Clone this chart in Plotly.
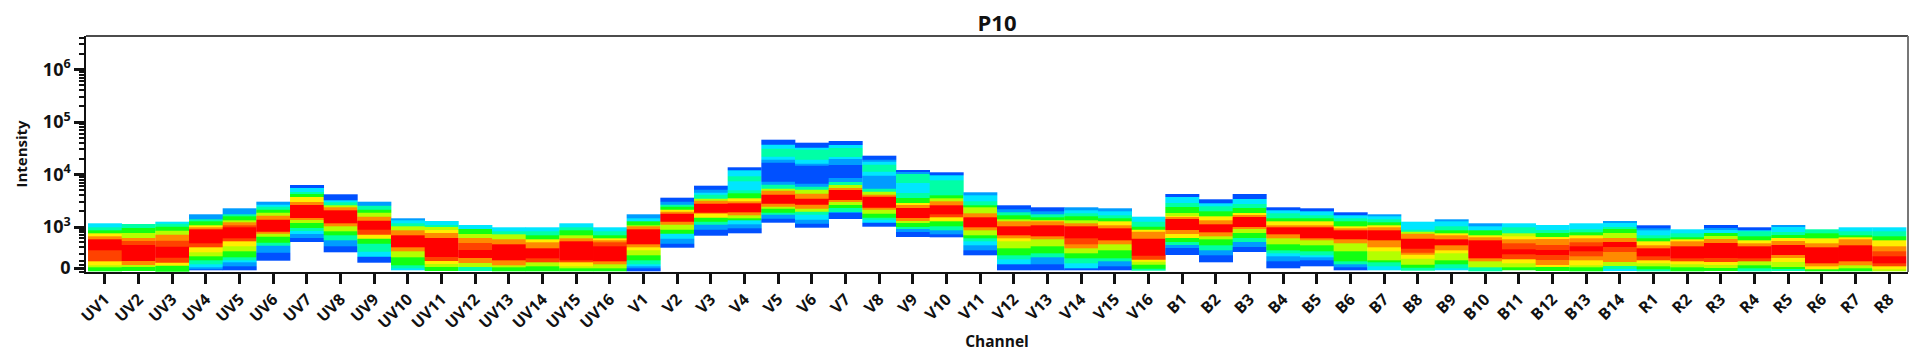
import math
import plotly.graph_objects as go

# Channel names
UV = [f"UV{i}" for i in range(1, 17)]
V = [f"V{i}" for i in range(1, 17)]
B = [f"B{i}" for i in range(1, 15)]
R = [f"R{i}" for i in range(1, 9)]
channels = UV + V + B + R

# Band edges per channel on the transformed intensity scale, high to low
band_edges = [
 [44.7,40.7,37.3,34.7,32,28.7,18,6.3,3,0.7,-3.3],
 [44,39.7,34.7,30.3,27,23,7.3,3,0.7,-3.3],
 [46.3,44.7,41.3,37.3,33,27.3,21.3,10.7,5.7,2,-3.3],
 [53.7,48.7,46.3,43,40.7,38.7,24.7,20.7,15.7,12,8,4,0.7,-1,-2.7],
 [59.7,54,51.3,48,45.3,42.3,40.7,29.7,27,22,16.3,10.7,7.3,5.3,2,-2],
 [66.3,63.7,61.3,58.7,55.3,52,48.7,36.3,34,31.3,25.3,22,15.3,7.3],
 [83,79.7,76.3,74,70.7,66.3,63,50.3,48,45.3,39.7,37.3,33.7,29.7,25.7],
 [73.7,68,65.7,63,60.7,57.3,44.7,41.3,36.3,32.3,27.3,22,16],
 [66.3,62,58,55.3,51.3,47.3,38,33,29.7,24.7,16.3,11.3,5.7],
 [49.7,48,44.7,42,38,33,20.7,16.3,10.7,3,-0.3,-2.7],
 [47,43,40.7,38,34.7,29.7,10.7,7,4,0.7,-3.3],
 [43,38.7,34,29.7,25.3,18,9.7,5.3,1.3,-3],
 [40.7,36.3,33.7,28.7,23.7,7.3,3,0.3,-3.3],
 [40.7,36.3,33,28.7,25.3,19.3,9.7,5.3,1.3,-3.3],
 [44.7,40.7,38,33,29.7,27,8,5.3,1.3,-0.3,-3.3],
 [40.7,36.3,33,29.7,28,25.3,22,6.3,4,-0.3,-3.3],
 [53.7,49.7,46.3,43,41.3,38.7,24,20.7,18,13,7.3,3.7,1.3,-0.3,-3],
 [70.3,66.3,63.7,61.3,58.7,56.3,54.7,46.3,43,38.7,34.7,29.7,24.7,20],
 [82.3,78,75.3,73,69.7,67.3,64.7,55.7,54,50.7,46.3,43,38,32.7],
 [100.7,98,92,86.3,78,74.7,69.7,66.3,64.7,55.3,53,49.7,47.3,43.7,39.7,34.7],
 [128.3,123,119.7,111.3,108.7,105.3,86.3,83,79.7,77,73,64.7,61.3,59,55.3,53,49.7,45.7],
 [125.3,120.7,118,108,104.7,102,84.7,81.3,78,74.7,69.7,63,59,56.3,53,48.7,44.7,40],
 [127,123,119.7,111.3,108.7,103,89.7,86.3,83,79.7,78,68,65.7,63,59.7,56.3,54.7,49],
 [112.3,108.7,106.3,103,96.3,92,79.7,76.3,73,71.3,60.7,58,54.7,50.7,48,45.3,41.7],
 [98,96.3,94,84.7,74.7,69.7,65.3,63,59.7,49.7,47.3,44.7,41.3,38.7,36.3,31],
 [95.7,92.3,88,73,69.7,66.3,63,54,50.7,46.3,41.3,38,34,31],
 [75.7,72.3,66.3,63,60.7,54.7,50.7,40.7,38,33,29.7,26.3,23,17.3,12.7],
 [62.7,58.7,55.3,53,48.7,46.3,41.3,33,29.7,26.3,19.7,13,8.7,3.7,-2.3],
 [60.7,56.3,53.7,50.7,48,46.3,43,31.3,29,21.3,14.7,10.7,3.7,-2.3],
 [60.7,58,54.7,51.3,48,44.7,41.3,29.7,24,19.7,14.7,9.7,4.7,-0.3,-2.7],
 [59.7,56.3,53,49.7,46.3,42.3,39.7,28,24,18,9.7,6.3,2,-2.7],
 [51.3,46.3,41.3,38.7,36.3,29.7,12,8.7,6.3,3,-0.3,-2.7],
 [74,70.7,64.7,61.3,55.3,52,50.7,48.7,38,34,29.7,26.3,23,19.7,12.7],
 [68.7,64.7,61.3,56.3,51.3,48,44,35.3,32,28.7,23,18,12.3,6],
 [74,68.7,63.7,59.7,55.3,53,50.7,40.7,38.7,34.7,29.7,26.3,21.3,16],
 [60.7,58,54.7,49.7,46.3,43,40.7,34,29.7,24,18,14.7,12,6.3,0],
 [59.7,56.3,53,49.7,46.3,43,40.7,29.7,27.3,23,16.3,12.3,10.7,7.3,1.3],
 [55.7,53,49.7,46.3,42,39.7,37.3,29,24.7,16.3,6.3,4,0.7,-2.7],
 [53.7,52,48.7,45.3,43,40.7,38,27.3,20.7,16.3,8,5.3,2,-2.7],
 [46.3,38.7,36.3,34,29.7,19.7,15.3,13,9.7,3,0.7,-2.7],
 [48.7,46.3,41.3,38,34.7,32.3,29,23,17.3,14.7,8,4,-0.3,-2.7],
 [44.7,41.3,38,33,30.3,27.3,9.7,6.3,0.7,-3],
 [44.7,40.7,34.7,31.3,28.7,24.7,18.7,14,8.7,4.7,0.7,-2.7],
 [43,38,34.7,31.3,29,23,18,13,8,3,0.7,-3],
 [44.7,38.7,35.3,32.3,29.7,25.3,22,16.3,12,7.3,3,0.7,-3],
 [47,44.7,41.3,38.7,34.7,30.3,26.3,21.3,16.3,6.3,2,-1,-3.3],
 [42.7,39.7,37.3,33,29.7,26.3,23,19.7,11.3,8,4.7,1.3,-1,-3.3],
 [38.7,34.7,30.7,28.7,26.3,21.3,9.7,6.3,3.7,0.3,-3.3],
 [43,39.7,38,34.7,32,28.7,25.3,9.7,6.3,3,-0.3,-3.3],
 [40.7,38,36.3,32,28,24.7,21.3,9.7,6.3,3,-0.3,-3.3],
 [43,40.7,36.3,33,29.7,27.3,23,13,9.7,6.3,1.3,-1.3,-3.3],
 [38.7,34.7,29.7,24.7,20.7,4.7,2,-1.3,-3.3],
 [40.7,36.3,33,30.7,28.7,23,6.3,3,-0.3,-3.3],
 [40.7,36.3,32,28,21.3,16.3,12,4.7,1.3,-1.3,-3.3],
]

# Density level of each band, same order as band_edges
band_levels = [
 [2,3,4,6,7,9,8,6,5,4],
 [3,4,5,7,8,9,7,5,4],
 [2,3,4,5,7,8,9,8,6,4],
 [1,3,4,6,7,9,8,6,5,4,3,2,1,0],
 [1,3,4,5,7,8,9,8,6,5,4,3,2,1,0],
 [1,2,3,4,5,7,9,7,5,4,3,1,0],
 [0,2,3,4,6,7,9,7,5,4,3,2,1,0],
 [0,2,3,5,7,9,7,5,4,3,1,0],
 [1,3,4,5,7,9,8,6,4,3,2,0],
 [1,2,3,5,7,9,7,5,4,3,2],
 [2,3,5,6,7,9,8,6,5,4],
 [2,4,5,7,8,9,7,5,3],
 [2,3,5,7,9,7,5,4],
 [2,3,4,6,7,9,8,5,4],
 [2,3,4,5,7,9,8,6,5,4],
 [2,3,4,6,7,8,9,7,5,4],
 [1,2,4,5,7,9,7,6,5,4,3,2,1,0],
 [0,1,3,4,6,7,9,7,5,4,2,1,0],
 [0,1,2,3,5,7,9,7,6,4,3,1,0],
 [0,2,3,2,3,4,6,7,9,7,5,4,2,1,0],
 [0,2,3,2,1,0,1,3,5,7,9,7,5,4,3,1,0],
 [0,2,3,2,1,0,1,3,5,7,9,7,5,3,2,1,0],
 [0,2,3,2,1,0,1,3,5,7,9,7,5,4,3,1,0],
 [0,1,2,3,2,1,3,5,7,9,7,5,4,3,2,0],
 [0,1,3,2,3,4,6,7,9,7,5,4,3,1,0],
 [0,2,3,4,5,7,9,8,6,4,3,1,0],
 [1,2,3,4,5,7,9,7,5,4,3,2,1,0],
 [0,1,3,4,5,7,9,7,6,5,4,3,2,0],
 [0,1,3,4,6,7,9,7,5,4,3,1,0],
 [1,2,3,4,5,7,9,8,7,5,4,3,2,0],
 [1,2,3,4,6,7,9,7,5,4,3,1,0],
 [2,3,4,6,7,9,8,6,5,4,3],
 [0,2,3,4,5,6,7,9,7,6,4,3,1,0],
 [0,2,3,4,6,7,9,7,5,4,3,1,0],
 [0,2,3,4,6,7,9,7,5,4,3,1,0],
 [0,2,3,4,6,7,9,7,5,4,3,2,1,0],
 [0,2,3,4,6,7,9,7,5,4,3,2,1,0],
 [0,2,3,4,6,7,9,7,5,4,3,1,0],
 [1,2,3,4,6,7,9,7,6,5,4,3,2],
 [2,3,5,7,9,8,7,6,5,4,3],
 [1,2,3,4,6,7,9,7,6,5,4,3,2],
 [1,2,4,6,7,9,7,5,3],
 [2,3,5,6,7,8,9,8,6,5,4],
 [2,3,4,6,7,8,9,8,7,6,4],
 [2,3,4,6,7,8,9,8,7,6,5,4],
 [1,2,3,4,5,7,9,8,7,5,3,2],
 [0,1,2,3,4,6,7,9,8,6,5,4,3],
 [2,3,4,6,7,9,8,6,5,4],
 [0,1,2,4,5,7,9,8,6,5,4],
 [0,2,3,4,6,7,9,8,5,4,3],
 [1,2,3,4,6,7,9,7,6,5,4,3],
 [3,4,6,7,9,7,6,4],
 [2,3,4,6,7,9,7,5,4],
 [2,3,4,6,7,8,9,8,6,5],
]

# Axis scale: transformed units for zero and for each decade
zero_tick = 0
decade_exponents = [3, 4, 5, 6]
decade_ticks = [41, 93.5, 146, 198.5]
low_minor_ticks = [38, 35.7, 33, 29.7, 25.7, 20.7, 14, 7, 3, -0.3, -3.7]

palette = ["#0050ff", "#009cff", "#00e6ff", "#00ffa6", "#12ff12",
           "#b4ff00", "#ffee00", "#ff8a00", "#ff4200", "#ff0000"]
n = len(palette)
colorscale = []
for i, c in enumerate(palette):
    colorscale += [[i / n, c], [(i + 1) / n, c]]

fig = go.Figure()
for idx, (edges, levels) in enumerate(zip(band_edges, band_levels)):
    asc_edges = edges[::-1]
    asc_levels = levels[::-1]
    fig.add_trace(go.Heatmap(
        x=[idx - 0.5, idx + 0.5], y=asc_edges, z=[[l] for l in asc_levels],
        zmin=-0.5, zmax=n - 0.5, colorscale=colorscale, showscale=False,
        hoverinfo="skip", zsmooth=False))

decade = decade_ticks[1] - decade_ticks[0]
minor_vals = list(low_minor_ticks)
for d in decade_ticks:
    for k in range(2, 10):
        v = d + decade * math.log10(k)
        if v < 232:
            minor_vals.append(v)

FONT = "Open Sans, Noto Sans, sans-serif"
# Page body has an 8px margin, so the figure starts 8px in.
fig.update_layout(
    width=1932, height=361, autosize=False,
    margin=dict(l=76, r=32, t=28, b=97),
    paper_bgcolor="white", plot_bgcolor="white",
    font=dict(family=FONT, color="#111"),
    title=dict(text="<b>P10</b>", x=0.5, xref="paper", xanchor="center",
               y=0.958, yanchor="middle", font=dict(size=22, color="#111", family=FONT)),
    xaxis=dict(
        range=[-0.56, 53.56], tickmode="array",
        tickvals=list(range(len(channels))),
        ticktext=[f"<b>{c}</b>" for c in channels],
        tickangle=-45, ticks="outside", ticklen=10, tickwidth=2.5, tickcolor="#111",
        tickfont=dict(size=16, color="#111", family=FONT),
        showline=True, linecolor="#111", linewidth=1.5, showgrid=False, zeroline=False,
        title=dict(text="<b>Channel</b>", font=dict(size=15.5, color="#111", family=FONT), standoff=4),
    ),
    yaxis=dict(
        range=[-4, 232], tickmode="array",
        tickvals=[zero_tick] + decade_ticks,
        ticktext=["<b>0</b>"] + [f"<b>10<sup>{e}</sup></b>" for e in decade_exponents],
        ticks="outside", ticklen=10, tickwidth=3, tickcolor="#111",
        tickfont=dict(size=18, color="#111", family=FONT),
        showline=True, linecolor="#111", linewidth=1.5, showgrid=False, zeroline=False,
        minor=dict(tickmode="array", tickvals=minor_vals, ticks="outside", ticklen=5,
                   tickwidth=1.5, tickcolor="#111", showgrid=False),
        title=dict(text="<b>Intensity</b>", font=dict(size=15, color="#111", family=FONT), standoff=12),
    ),
    shapes=[
        dict(type="line", xref="paper", yref="paper", x0=0, x1=1, y0=1, y1=1,
             line=dict(color="#111", width=1.5)),
        dict(type="line", xref="paper", yref="paper", x0=1, x1=1, y0=0, y1=1,
             line=dict(color="#777", width=2)),
    ],
)
fig.write_html("out.html")
